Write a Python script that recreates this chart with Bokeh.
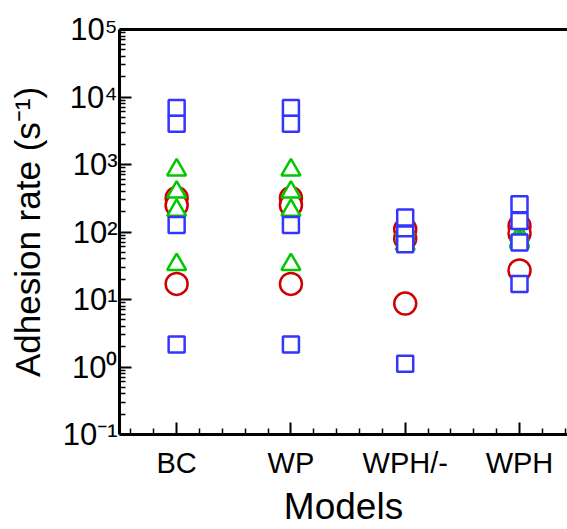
from bokeh.plotting import figure
from bokeh.models import FixedTicker, LinearAxis, Range1d, ColumnDataSource
from bokeh.embed import file_html
from bokeh.resources import INLINE

models = ["BC", "WP", "WPH/-", "WPH"]
model_pos = [1, 2, 3, 4]

# blue squares
sq_model = ["BC"] * 4 + ["WP"] * 4 + ["WPH/-"] * 4 + ["WPH"] * 4
sq_rate = [6900, 4000, 127, 2.15,
           6900, 4000, 127, 2.15,
           164, 92, 66, 1.12,
           258, 146, 70, 17]

# green triangles
tri_model = ["BC"] * 4 + ["WP"] * 4 + ["WPH/-"] * 3 + ["WPH"] * 3
tri_rate = [830, 391, 209, 33,
            830, 391, 209, 33,
            110, 88, 66,
            90, 75, 70]

# red circles
circ_model = ["BC"] * 3 + ["WP"] * 3 + ["WPH/-"] * 3 + ["WPH"] * 3
circ_rate = [320, 250, 17,
             320, 250, 17,
             110, 80, 8.7,
             123, 95, 27]

y_ticks = [0.1, 1, 10, 100, 1000, 10000, 100000]
y_tick_labels = ["10\u207b\u00b9", "10\u2070", "10\u00b9", "10\u00b2", "10\u00b3", "10\u2074", "10\u2075"]

FONT = "Liberation Sans"
pos = dict(zip(models, model_pos))

p = figure(width=567, height=529, y_axis_type="log",
           x_range=Range1d(0.5, 4.42), y_range=Range1d(0.1, 1e5),
           output_backend="svg", toolbar_location=None,
           min_border_left=119, min_border_right=0,
           min_border_top=29, min_border_bottom=95)
p.outline_line_color = None
p.grid.visible = False
p.background_fill_color = "white"
p.border_fill_color = "white"

def src(ms, vals):
    return ColumnDataSource(dict(x=[pos[m] for m in ms], y=vals))

p.scatter("x", "y", source=src(circ_model, circ_rate), marker="circle", size=22,
          line_color="#d00000", line_width=2.5, fill_color="white")
p.scatter("x", "y", source=src(tri_model, tri_rate), marker="triangle", size=19,
          line_color="#00c800", line_width=2.5, fill_color="white")
p.scatter("x", "y", source=src(sq_model, sq_rate), marker="square", size=16,
          line_color="#3535ff", line_width=2.5, fill_color="white")

# x axis
xminor = [m + k * 0.2 for m in range(0, 5) for k in range(1, 5) if 0.5 < m + k * 0.2 < 4.42]
xa = p.xaxis[0]
xa.ticker = FixedTicker(ticks=model_pos, minor_ticks=xminor)
xa.major_label_overrides = {k: v for k, v in zip(model_pos, models)}
xa.axis_label = "Models"

# y axis
yminor = [m * 10.0 ** e for e in range(-1, 5) for m in range(2, 10)]
ya = p.yaxis[0]
ya.ticker = FixedTicker(ticks=y_ticks, minor_ticks=yminor)
ya.major_label_overrides = {k: v for k, v in zip(y_ticks, y_tick_labels)}
ya.axis_label = "Adhesion rate (s\u207b\u00b9)"

for ax in (xa, ya):
    ax.axis_line_width = 3
    ax.axis_line_color = "black"
    ax.major_tick_in = 12
    ax.major_tick_out = 0
    ax.minor_tick_in = 6
    ax.minor_tick_out = 0
    ax.major_tick_line_width = 2
    ax.minor_tick_line_width = 1.5
    ax.major_tick_line_color = "black"
    ax.minor_tick_line_color = "black"
    ax.major_label_text_font = FONT
    ax.axis_label_text_font = FONT
    ax.axis_label_text_font_style = "normal"
    ax.axis_label_text_color = "black"
    ax.major_label_text_color = "black"

xa.major_label_text_font_size = "29px"
xa.axis_label_text_font_size = "37px"
xa.major_label_standoff = 12
xa.axis_label_standoff = 4

ya.major_label_text_font_size = "31px"
ya.axis_label_text_font_size = "35px"
ya.major_label_standoff = 2
ya.axis_label_standoff = 13

top = LinearAxis(ticker=FixedTicker(ticks=[]), axis_line_width=3,
                 major_tick_line_color=None, minor_tick_line_color=None,
                 major_label_text_font_size="0px", major_label_standoff=0)
p.add_layout(top, "above")

open("out.html", "w").write(file_html(p, INLINE))
